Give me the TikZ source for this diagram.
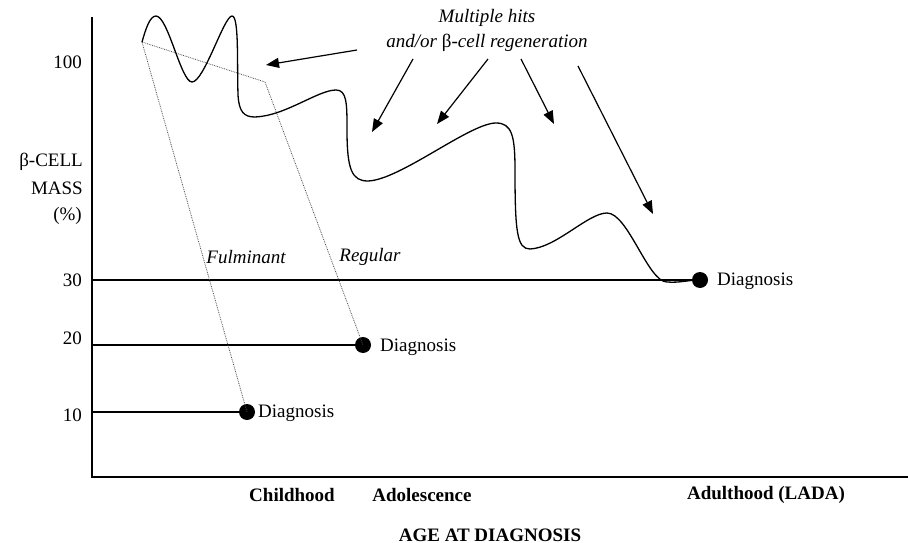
\documentclass[tikz,border=0pt]{standalone}
\usepackage{fontspec}
\setmainfont{Liberation Serif}
\usetikzlibrary{arrows.meta}
\begin{document}
\begin{tikzpicture}[x=1pt,y=-1pt,
  lbl/.style={font=\fontsize{19}{22}\selectfont, inner sep=0pt},
  ital/.style={lbl, font=\fontsize{19}{22}\selectfont\itshape},
  bld/.style={lbl, font=\fontsize{19}{22}\selectfont\bfseries},
  axis/.style={line width=1.3pt},
  hline/.style={line width=1.2pt},
  curve/.style={line width=1.3pt},
  dotline/.style={line width=0.8pt, densely dotted, black!70},
  dotnode/.style={circle, fill=black, minimum size=16pt, inner sep=0pt},
  hitarrow/.style={line width=1.2pt, -{Triangle[length=13pt,width=10pt]}}
]
\useasboundingbox (0,0) rectangle (908,543);
% axes
\coordinate (ytop) at (92,17);
\coordinate (orig) at (92,477);
\coordinate (xend) at (908,477);
\draw[axis] (ytop) -- (orig) -- (xend);
% tick labels
\node[lbl, anchor=east] (t100) at (82,62) {100};
\node[lbl, anchor=east] (t30) at (82,280) {30};
\node[lbl, anchor=east] (t20) at (82,338) {20};
\node[lbl, anchor=east] (t10) at (82,415) {10};
\node[lbl, anchor=east] (yl1) at (83,162) {\textup{β}-CELL};
\node[lbl, anchor=east] (yl2) at (83,188) {MASS};
\node[lbl, anchor=east] (yl3) at (82,216) {(\%)};
% dots
\node[dotnode] (d1) at (247,412) {};
\node[dotnode] (d2) at (363,345) {};
\node[dotnode] (d3) at (700,280) {};
\node[lbl, anchor=west] (g1) at (258,413) {Diagnosis};
\node[lbl, anchor=west] (g2) at (380,347) {Diagnosis};
\node[lbl, anchor=west] (g3) at (717,281) {Diagnosis};
% horizontal lines
\coordinate (h10) at (92,412);
\coordinate (h20) at (92,345);
\coordinate (h30) at (92,280);
\draw[hline] (h10) -- (d1);
\draw[hline] (h20) -- (d2);
\draw[hline] (h30) -- (d3);
% dotted paths
\coordinate (s) at (142,42);
\coordinate (k) at (265,82);
\draw[dotline] (s) -- (d1.center);
\draw[dotline] (s) -- (k) -- (d2.center);
\node[ital] (ful) at (246,257) {Fulminant};
\node[ital] (reg) at (370,257) {Regular};
% main curve
\draw[curve] (s) .. controls (146,28) and (150,16) .. (156,16)
  .. controls (168,16) and (181,82) .. (192,82)
  .. controls (204,82) and (224,16) .. (232,16)
  .. controls (239,16) and (237,60) .. (238,95)
  .. controls (239,112) and (244,117) .. (255,117)
  .. controls (285,116) and (318,90) .. (336,90)
  .. controls (347,90) and (347,104) .. (347,130)
  .. controls (347,170) and (352,181) .. (368,181)
  .. controls (400,180) and (470,123) .. (496,123)
  .. controls (512,123) and (515,136) .. (515,170)
  .. controls (515,232) and (517,249) .. (530,249)
  .. controls (556,248) and (588,213) .. (607,213)
  .. controls (628,213) and (648,282) .. (667,282)
  .. controls (680,283) and (688,280) .. (d3.center);
% top label and arrows
\node[ital] (m1) at (487,18) {Multiple hits};
\node[ital] (m2) at (487,43) {and/or \textup{β}-cell regeneration};
\coordinate (a1s) at (357,50);  \coordinate (a1e) at (266,65);
\coordinate (a2s) at (413,59);  \coordinate (a2e) at (372,132);
\coordinate (a3s) at (488,59);  \coordinate (a3e) at (437,124);
\coordinate (a4s) at (521,59);  \coordinate (a4e) at (554,124);
\coordinate (a5s) at (578,66);  \coordinate (a5e) at (653,214);
\draw[hitarrow] (a1s) -- (a1e);
\draw[hitarrow] (a2s) -- (a2e);
\draw[hitarrow] (a3s) -- (a3e);
\draw[hitarrow] (a4s) -- (a4e);
\draw[hitarrow] (a5s) -- (a5e);
% x labels
\node[bld] (c1) at (292,495) {Childhood};
\node[bld] (c2) at (422,495) {Adolescence};
\node[bld] (c3) at (766,495) {Adulthood (LADA)};
\node[bld] (xl) at (490,535) {AGE AT DIAGNOSIS};
\end{tikzpicture}
\end{document}
